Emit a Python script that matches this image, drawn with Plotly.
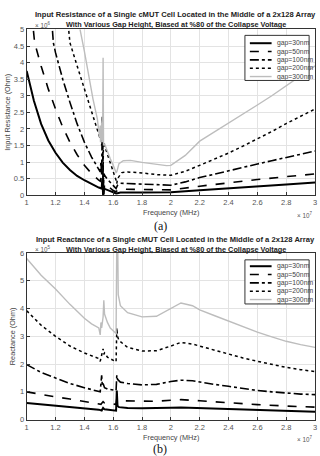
import plotly.graph_objects as go

names = ["gap=30nm", "gap=50nm", "gap=100nm", "gap=200nm", "gap=300nm"]

# ---- (a) Input resistance, x in 1e7 Hz, y in 1e6 Ohm ----
ra_x30 = [1.0, 1.05, 1.1, 1.15, 1.2, 1.25, 1.3, 1.35, 1.4, 1.45, 1.5, 1.52, 1.525, 1.53, 1.535, 1.54, 1.56, 1.6, 1.62, 1.63, 1.65, 1.8, 1.9, 2.0, 2.2, 2.4, 2.6, 2.8, 3.0]
ra_y30 = [3.75, 2.85, 2.15, 1.65, 1.28, 0.98, 0.76, 0.58, 0.45, 0.33, 0.23, 0.2, 0.5, 0.0, 0.25, 0.19, 0.15, 0.08, 0.05, 0.06, 0.08, 0.08, 0.08, 0.09, 0.15, 0.2, 0.26, 0.32, 0.38]
ra_x50 = [1.035, 1.055, 1.1, 1.15, 1.2, 1.25, 1.3, 1.35, 1.4, 1.45, 1.5, 1.51, 1.52, 1.525, 1.53, 1.535, 1.54, 1.56, 1.58, 1.6, 1.62, 1.63, 1.65, 1.8, 1.9, 2.0, 2.2, 2.4, 2.6, 2.8, 3.0]
ra_y50 = [5.5, 4.6, 3.9, 3.2, 2.6, 2.05, 1.6, 1.22, 0.9, 0.65, 0.45, 0.42, 0.6, 0.3, 0.9, 0.0, 0.35, 0.27, 0.2, 0.14, 0.1, 0.15, 0.18, 0.17, 0.16, 0.16, 0.27, 0.38, 0.47, 0.56, 0.64]
ra_x100 = [1.17, 1.185, 1.2, 1.25, 1.3, 1.35, 1.4, 1.45, 1.5, 1.51, 1.515, 1.52, 1.525, 1.53, 1.535, 1.54, 1.56, 1.58, 1.6, 1.62, 1.63, 1.65, 1.7, 1.8, 1.9, 2.0, 2.1, 2.2, 2.3, 2.4, 2.5, 2.6, 2.7, 2.8, 2.9, 3.0]
ra_y100 = [5.5, 4.6, 4.3, 3.5, 2.8, 2.15, 1.6, 1.15, 0.78, 0.7, 1.0, 0.6, 2.4, 0.1, 0.65, 0.6, 0.48, 0.38, 0.28, 0.2, 0.3, 0.36, 0.35, 0.33, 0.31, 0.3, 0.4, 0.53, 0.63, 0.74, 0.84, 0.94, 1.04, 1.14, 1.24, 1.33]
ra_x200 = [1.28, 1.3, 1.35, 1.4, 1.45, 1.48, 1.5, 1.51, 1.515, 1.52, 1.525, 1.53, 1.532, 1.54, 1.56, 1.58, 1.6, 1.62, 1.625, 1.63, 1.66, 1.7, 1.8, 1.9, 2.0, 2.1, 2.2, 2.3, 2.4, 2.5, 2.6, 2.7, 2.8, 2.9, 3.0]
ra_y200 = [5.5, 4.6, 3.9, 3.2, 2.5, 2.1, 1.85, 1.7, 2.0, 1.5, 2.2, 0.3, 1.6, 1.5, 1.25, 1.0, 0.75, 0.45, 0.35, 0.5, 0.68, 0.7, 0.67, 0.62, 0.6, 0.72, 0.9, 1.08, 1.27, 1.48, 1.69, 1.92, 2.16, 2.38, 2.6]
ra_x300 = [1.35, 1.37, 1.4, 1.43, 1.46, 1.49, 1.5, 1.505, 1.51, 1.512, 1.515, 1.518, 1.52, 1.523, 1.527, 1.53, 1.533, 1.54, 1.56, 1.58, 1.6, 1.62, 1.625, 1.64, 1.67, 1.72, 1.8, 1.9, 1.97, 2.0, 2.1, 2.2, 2.3, 2.4, 2.5, 2.6, 2.7, 2.8, 2.9, 3.0]
ra_y300 = [5.6, 5.0, 4.35, 3.6, 2.9, 2.3, 2.0, 1.75, 2.1, 1.6, 1.9, 1.7, 2.2, 1.6, 1.8, 4.15, 1.5, 1.55, 1.3, 1.1, 0.9, 0.68, 0.7, 0.95, 1.04, 1.05, 0.99, 0.92, 0.89, 0.9, 1.2, 1.63, 1.9, 2.16, 2.44, 2.72, 3.0, 3.3, 3.6, 3.9]

# ---- (b) Input reactance, x in 1e7 Hz, y in 1e5 Ohm ----
rb_x30 = [1.0, 1.1, 1.2, 1.3, 1.4, 1.5, 1.52, 1.53, 1.54, 1.6, 1.62, 1.625, 1.63, 1.64, 1.7, 1.8, 1.9, 2.0, 2.07, 2.2, 2.4, 2.6, 2.8, 3.0]
rb_y30 = [0.6, 0.55, 0.5, 0.46, 0.42, 0.36, 0.33, 0.42, 0.37, 0.33, 0.32, 1.05, 0.5, 0.45, 0.42, 0.41, 0.41, 0.43, 0.44, 0.42, 0.38, 0.34, 0.31, 0.28]
rb_x50 = [1.0, 1.1, 1.2, 1.3, 1.4, 1.5, 1.515, 1.53, 1.54, 1.6, 1.62, 1.625, 1.63, 1.65, 1.8, 1.9, 2.0, 2.07, 2.2, 2.4, 2.6, 2.8, 3.0]
rb_y50 = [1.0, 0.9, 0.82, 0.74, 0.66, 0.58, 0.55, 0.65, 0.6, 0.56, 0.55, 0.75, 0.7, 0.68, 0.66, 0.66, 0.7, 0.72, 0.68, 0.6, 0.54, 0.49, 0.45]
rb_x100 = [1.0, 1.1, 1.2, 1.3, 1.4, 1.5, 1.51, 1.515, 1.52, 1.525, 1.53, 1.54, 1.56, 1.6, 1.62, 1.625, 1.63, 1.65, 1.7, 1.8, 1.9, 2.0, 2.07, 2.15, 2.2, 2.3, 2.4, 2.5, 2.6, 2.7, 2.8, 2.9, 3.0]
rb_y100 = [1.98, 1.7, 1.5, 1.3, 1.15, 1.02, 1.0, 1.3, 1.6, 1.2, 1.3, 1.15, 1.1, 1.07, 1.05, 1.6, 1.45, 1.35, 1.3, 1.25, 1.27, 1.37, 1.42, 1.4, 1.35, 1.27, 1.2, 1.12, 1.05, 1.0, 0.95, 0.92, 0.9]
rb_x200 = [1.0, 1.1, 1.2, 1.3, 1.4, 1.5, 1.51, 1.52, 1.53, 1.535, 1.54, 1.56, 1.6, 1.62, 1.625, 1.63, 1.64, 1.7, 1.8, 1.9, 2.0, 2.07, 2.15, 2.2, 2.3, 2.4, 2.5, 2.6, 2.7, 2.8, 2.9, 3.0]
rb_y200 = [3.92, 3.4, 3.0, 2.65, 2.4, 2.2, 2.1, 2.3, 2.55, 2.35, 2.4, 2.25, 2.12, 2.08, 3.3, 3.0, 2.85, 2.6, 2.47, 2.48, 2.65, 2.78, 2.72, 2.65, 2.5, 2.35, 2.22, 2.1, 1.98, 1.88, 1.8, 1.73]
rb_x300 = [1.0, 1.1, 1.2, 1.3, 1.4, 1.45, 1.5, 1.51, 1.515, 1.52, 1.53, 1.535, 1.54, 1.56, 1.58, 1.6, 1.62, 1.625, 1.63, 1.635, 1.65, 1.7, 1.8, 1.9, 2.0, 2.07, 2.15, 2.2, 2.3, 2.4, 2.5, 2.6, 2.7, 2.8, 2.9, 3.0]
rb_y300 = [5.8, 5.2, 4.7, 4.15, 3.65, 3.45, 3.3, 3.05, 3.5, 3.3, 3.7, 4.3, 3.8, 3.5, 3.3, 3.2, 3.1, 6.5, 7.0, 4.5, 4.1, 3.85, 3.7, 3.72, 4.0, 4.2, 4.1, 3.95, 3.75, 3.55, 3.35, 3.15, 2.98, 2.82, 2.7, 2.6]

x_ticks = [1.0, 1.2, 1.4, 1.6, 1.8, 2.0, 2.2, 2.4, 2.6, 2.8, 3.0]
x_tick_text = ["1", "1.2", "1.4", "1.6", "1.8", "2", "2.2", "2.4", "2.6", "2.8", "3"]
ya_ticks = [0, 0.5, 1, 1.5, 2, 2.5, 3, 3.5, 4, 4.5, 5]
ya_tick_text = ["0", "0.5", "1", "1.5", "2", "2.5", "3", "3.5", "4", "4.5", "5"]
yb_ticks = [0, 1, 2, 3, 4, 5, 6]

styles = [
    dict(color="black", width=2, dash="solid"),
    dict(color="black", width=1.6, dash="dash"),
    dict(color="black", width=1.6, dash="dashdot"),
    dict(color="black", width=1.5, dash="dot"),
    dict(color="#bdbdbd", width=1.4, dash="solid"),
]

series_a = [(ra_x30, ra_y30), (ra_x50, ra_y50), (ra_x100, ra_y100), (ra_x200, ra_y200), (ra_x300, ra_y300)]
series_b = [(rb_x30, rb_y30), (rb_x50, rb_y50), (rb_x100, rb_y100), (rb_x200, rb_y200), (rb_x300, rb_y300)]

fig = go.Figure()
for (xs, ys), nm, st in zip(series_a, names, styles):
    fig.add_trace(go.Scatter(x=xs, y=ys, mode="lines", name=nm, line=st,
                             xaxis="x", yaxis="y", showlegend=False))
for (xs, ys), nm, st in zip(series_b, names, styles):
    fig.add_trace(go.Scatter(x=xs, y=ys, mode="lines", name=nm, line=st,
                             xaxis="x2", yaxis="y2", showlegend=False))

W, H = 320, 456
def px(v): return v / W
def py(v): return 1 - v / H

tickfont = dict(family="Liberation Sans, Arial", size=7.5, color="#555")
axcommon = dict(showgrid=True, gridcolor="#e3e3e3", gridwidth=1, showline=True, linecolor="#333",
                linewidth=1, mirror=True, ticks="inside", ticklen=3, tickcolor="#333",
                tickfont=tickfont, zeroline=False)

fig.update_layout(
    width=W, height=H, margin=dict(l=0, r=0, t=0, b=0),
    paper_bgcolor="white", plot_bgcolor="white", showlegend=False,
    xaxis=dict(domain=[px(25), px(317)], range=[1, 3], tickvals=x_ticks, ticktext=x_tick_text,
               anchor="y", **axcommon),
    yaxis=dict(domain=[py(195), py(26)], range=[0, 5], tickvals=ya_ticks, ticktext=ya_tick_text,
               anchor="x", **axcommon),
    xaxis2=dict(domain=[px(25), px(317)], range=[1, 3], tickvals=x_ticks, ticktext=x_tick_text,
                anchor="y2", **axcommon),
    yaxis2=dict(domain=[py(424), py(254)], range=[0, 6], tickvals=yb_ticks,
                anchor="x2", **axcommon),
)

titlefont = dict(family="Liberation Sans, Arial", size=7.6, color="#222")
title2font = dict(family="Liberation Sans, Arial", size=7.3, color="#222")
labfont = dict(family="Liberation Sans, Arial", size=7.3, color="#444")
multfont = dict(family="Liberation Sans, Arial", size=6.3, color="#555")
legfont = dict(family="Liberation Sans, Arial", size=6.8, color="#444")
ann = []
shapes = []
def A(text, x, y, font, xanchor="center", yanchor="middle", textangle=0):
    ann.append(dict(text=text, x=px(x), y=py(y), xref="paper", yref="paper", showarrow=False,
                    font=font, xanchor=xanchor, yanchor=yanchor, textangle=textangle))

A("<b>Input Resistance of a Single cMUT Cell Located in the Middle of a 2x128 Array</b>", 176, 11, titlefont)
A("<b>With Various Gap Height, Biased at %80 of the Collapse Voltage</b>", 176, 21, title2font)
A("× 10<sup>6</sup>", 31, 21, multfont, xanchor="left")
A("Input Resistance (Ohm)", 6, 110, labfont, textangle=-90)
A("Frequency (MHz)", 171, 213, labfont)
A("× 10<sup>7</sup>", 316, 215, multfont, xanchor="right")
A("(a)", 160, 226, dict(family="Liberation Serif, Times New Roman", size=12, color="#111"))

A("<b>Input Reactance of a Single cMUT Cell Located in the Middle of a 2x128 Array</b>", 176, 240, titlefont)
A("<b>With Various Gap Height, Biased at %80 of the Collapse Voltage</b>", 176, 250, title2font)
A("× 10<sup>5</sup>", 31, 250, multfont, xanchor="left")
A("Reactance (Ohm)", 10, 339, labfont, textangle=-90)
A("Frequency (MHz)", 171, 442, labfont)
A("× 10<sup>7</sup>", 316, 444, multfont, xanchor="right")
A("(b)", 160, 454, dict(family="Liberation Serif, Times New Roman", size=12, color="#111"))

# manual legends (compact, as in the reference)
def legend_box(top, bottom, first_y, step):
    shapes.append(dict(type="rect", xref="paper", yref="paper", x0=px(246), x1=px(311),
                       y0=py(bottom), y1=py(top), line=dict(color="#333", width=1),
                       fillcolor="white", layer="above"))
    for i, (nm, st) in enumerate(zip(names, styles)):
        yy = first_y + i * step
        shapes.append(dict(type="line", xref="paper", yref="paper", x0=px(251), x1=px(273),
                           y0=py(yy), y1=py(yy), layer="above",
                           line=dict(color=st["color"], width=st["width"], dash=st["dash"])))
        A(nm, 276, yy, legfont, xanchor="left")

legend_box(32, 78, 40, 8.5)
legend_box(261, 306, 267.5, 8.5)

fig.update_layout(annotations=ann, shapes=shapes)
fig.write_html("out.html")
